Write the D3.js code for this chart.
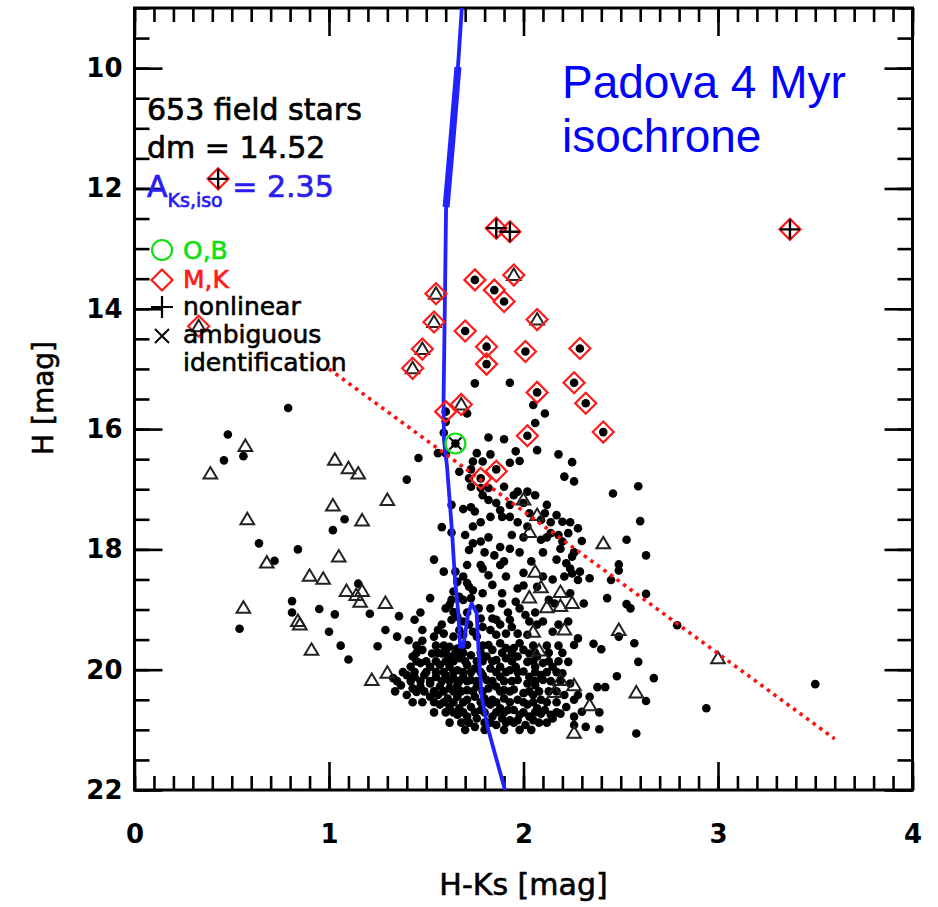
<!DOCTYPE html>
<html>
<head>
<meta charset="utf-8">
<script src="https://cdn.jsdelivr.net/npm/d3@7"></script>
<style>
  body { margin: 0; background: #fff; }
  svg { display: block; }
  text { font-family: "DejaVu Sans", sans-serif; }
</style>
</head>
<body>
<svg id="chart"></svg>
<script>
// -----------------------------
// DATA  (H-Ks, H)
// -----------------------------
const xTickLabels = [0, 1, 2, 3, 4];
const yTickLabels = [10, 12, 14, 16, 18, 20, 22];

// Padova 4 Myr isochrone
const isoX = [1.683, 1.663, 1.632, 1.602, 1.596, 1.589, 1.591, 1.607, 1.632, 1.648, 1.665, 1.674,
              1.690, 1.716, 1.734, 1.759, 1.768, 1.785, 1.819, 1.862, 1.905];
const isoH = [9.0, 9.98, 11.19, 12.31, 13.85, 15.52, 16.18, 16.63, 17.68, 18.51, 19.06, 19.62,
              19.62, 19.06, 18.90, 19.06, 19.62, 20.45, 21.00, 21.50, 22.0];

// reddening vector
const vecX = [1.0, 3.6];
const vecH = [15.0, 21.15];

// field stars (filled dots)
const fieldStars = [
  [0.79,15.65],[0.48,16.09],[0.46,16.52],[0.56,16.45],[0.64,17.90],[0.72,18.19],[0.84,18.00],[1.02,17.68],
  [1.08,17.50],[0.81,18.86],[0.81,19.05],[0.95,18.99],[1.03,19.08],[1.00,19.37],[1.06,19.60],[1.10,19.83],
  [1.15,18.57],[1.21,19.07],[1.29,19.34],[1.25,19.61],[0.54,19.32],[1.40,16.84],[1.46,16.48],[1.54,18.17],
  [1.58,17.63],[1.36,19.11],[1.44,19.17],[1.47,19.05],[1.52,18.81],[1.48,19.34],[1.35,19.45],
  [1.75,15.24],[1.93,15.23],[2.05,15.60],[2.11,15.74],[1.71,15.74],[2.06,15.90],[2.07,16.35],[1.82,16.14],
  [1.90,16.17],[1.96,16.37],[2.18,16.42],[2.25,16.55],[1.98,16.53],[2.21,16.79],[2.26,16.87],[2.46,17.07],
  [2.59,16.95],[2.60,17.53],[2.53,17.84],[2.63,18.10],[2.30,17.86],[2.49,18.25],[2.49,18.35],[2.45,18.51],
  [2.34,18.48],[2.43,18.81],[2.63,18.74],[2.53,18.91],[2.55,18.98],[2.57,19.56],[2.40,19.66],[2.36,19.57],
  [2.59,19.87],[2.48,20.11],[2.67,20.14],[2.79,19.26],[3.50,20.24],[2.94,20.64],[2.63,20.52],[2.58,21.06],
  [2.39,20.99],[2.39,20.71],[2.42,20.29],[2.38,20.29],[1.63,17.26],[1.63,17.72],[1.71,18.26],[1.88,18.26],
  [1.59,18.37],
  [1.60,15.88],[1.59,16.06],[1.65,16.24],[1.56,16.40],[1.60,16.40],[1.76,16.40],[1.83,16.42],[1.74,16.54],
  [1.79,16.54],[1.93,16.56],[1.73,16.67],[1.67,16.71],[1.78,16.82],[1.86,16.67],[1.72,16.82],[1.73,16.96],
  [1.82,16.98],[1.90,16.96],[1.78,16.98],[1.69,17.33],[1.73,17.30],[1.75,17.37],[1.82,17.18],[1.86,17.23],
  [1.93,17.26],[1.88,17.35],[1.97,17.04],[2.02,17.04],[2.00,17.23],[1.83,17.46],[1.89,17.46],[1.93,17.46],
  [2.03,17.40],[1.74,17.62],[2.02,17.62],
  [2.12,17.26],[2.17,17.43],[2.11,17.40],[2.09,17.51],[2.20,17.54],[2.28,17.65],
  [1.70,17.76],[1.74,17.90],[1.72,18.01],[1.78,17.87],[1.88,17.96],[1.93,17.99],[1.94,17.76],[1.65,18.37],
  [1.78,18.26],[1.79,18.32],[1.82,18.43],[1.85,18.10],[2.00,18.39],[1.66,18.54],[1.71,18.56],[1.72,18.62],
  [1.74,18.68],[1.79,18.73],[1.84,18.59],[1.89,18.73],[1.64,18.70],[1.63,18.84],[1.62,18.92],[1.67,18.79],
  [1.69,18.84],[1.73,18.81],[1.77,18.98],[1.83,18.98],[1.84,19.15],[1.97,18.65],[1.96,18.87],[1.98,18.98],
  [2.01,19.09],[1.60,18.98],[1.64,19.04],[1.66,19.12],[1.63,19.17],[1.69,19.20],[1.78,19.15],[1.79,19.29],
  [1.86,19.17],[1.93,19.17],[1.94,19.29],[1.56,19.34],[1.59,19.40],[1.54,19.45],[1.67,19.34],[1.69,19.42],
  [1.74,19.37],[1.76,19.45],[1.83,19.34],[1.86,19.42],[2.03,19.20],
  [2.09,17.84],[2.14,17.73],[2.18,17.76],[2.20,17.87],[2.23,17.73],[2.19,17.99],[2.25,18.12],[2.17,18.17],
  [2.22,18.23],[2.24,18.32],[2.25,18.40],[2.29,18.37],[2.28,18.51],[2.21,18.45],[2.15,18.50],[2.07,18.62],
  [2.13,18.84],[2.24,18.73],[2.10,19.20],[2.15,19.37],[2.23,19.20],[2.28,19.48],[2.49,19.45],
  [1.97,19.40],[2.02,19.42],[2.26,19.59],[1.98,19.56],[1.95,19.64],[2.00,19.67],[2.03,19.73],[1.97,19.78],
  [2.02,19.87],[2.07,19.78],[2.10,19.89],[2.06,19.95],[1.96,19.95],[2.00,20.03],[2.03,20.12],[2.09,20.09],
  [1.97,20.17],[2.02,20.23],[2.06,20.26],[2.10,20.17],[1.95,20.33],[2.00,20.39],[2.05,20.42],[2.09,20.50],
  [1.97,20.50],[2.02,20.58],[2.07,20.64],[1.95,20.67],[1.98,20.75],[2.03,20.78],[2.09,20.73],[2.14,20.75],
  [1.97,20.84],[2.01,20.92],[2.05,20.84],[2.15,19.95],[2.20,20.06],[2.23,19.87],[2.24,20.23],[2.28,20.42],
  [2.26,20.50],[2.21,20.42],[2.22,20.62],[2.19,20.73],[2.15,20.81],[2.11,20.67],[2.26,20.78],[2.30,20.70],
  [2.34,20.45],[2.26,20.92],[2.32,20.95],
  [1.64,19.45],[1.91,19.40],[1.41,19.51],[1.48,19.52],[1.59,19.60],[1.62,19.62],[1.66,19.65],[1.71,19.59],
  [1.82,19.59],[1.84,19.67],[1.88,19.56],[1.91,19.64],[1.48,19.67],[1.53,19.73],[1.58,19.73],[1.62,19.78],
  [1.67,19.81],[1.73,19.76],[1.81,19.78],[1.86,19.84],[1.91,19.81],[1.42,19.95],[1.47,19.89],[1.52,19.95],
  [1.57,19.92],[1.62,19.95],[1.66,20.01],[1.71,19.92],[1.75,19.98],[1.83,19.98],[1.88,19.95],[1.93,20.01],
  [1.40,20.09],[1.44,20.12],[1.49,20.09],[1.55,20.12],[1.60,20.09],[1.64,20.14],[1.69,20.12],[1.73,20.17],
  [1.79,20.09],[1.81,20.17],[1.88,20.12],[1.37,20.26],[1.43,20.31],[1.47,20.28],[1.52,20.23],[1.57,20.28],
  [1.62,20.31],[1.66,20.26],[1.71,20.34],[1.76,20.28],[1.82,20.31],[1.86,20.28],[1.90,20.34],[1.40,20.42],
  [1.45,20.37],[1.52,20.45],[1.56,20.42],[1.61,20.48],[1.66,20.45],[1.71,20.50],[1.75,20.45],[1.80,20.48],
  [1.84,20.50],[1.90,20.48],[1.57,20.58],[1.62,20.62],[1.67,20.64],[1.73,20.62],[1.78,20.67],[1.83,20.58],
  [1.88,20.64],[1.92,20.67],[1.66,20.75],[1.71,20.78],[1.76,20.81],[1.84,20.78],[1.89,20.81],[1.93,20.84],
  [1.75,20.95],[1.86,20.92],[1.43,19.78],[1.33,20.14],
  // dense core, second pass
  [1.45,19.60],[1.55,19.60],[1.69,19.60],[1.79,19.60],[2.05,19.60],[2.12,19.60],[2.18,19.60],
  [1.45,19.72],[1.56,19.72],[1.60,19.72],[1.65,19.72],[1.69,19.72],[1.78,19.72],[1.89,19.72],[1.94,19.72],
  [2.06,19.72],[2.13,19.72],[2.20,19.72],
  [1.45,19.86],[1.50,19.86],[1.55,19.86],[1.60,19.86],[1.64,19.86],[1.70,19.86],[1.76,19.86],[1.79,19.86],
  [1.84,19.86],[1.94,19.86],[2.05,19.86],[2.13,19.86],[2.18,19.86],
  [1.38,20.04],[1.44,20.04],[1.50,20.04],[1.55,20.04],[1.59,20.04],[1.64,20.04],[1.69,20.04],[1.73,20.04],
  [1.78,20.04],[1.86,20.04],[1.91,20.04],[1.97,20.04],[2.06,20.04],[2.12,20.04],[2.17,20.04],
  [1.35,20.19],[1.42,20.19],[1.47,20.19],[1.52,20.19],[1.58,20.19],[1.62,20.19],[1.67,20.19],[1.71,20.19],
  [1.76,20.19],[1.84,20.19],[1.90,20.19],[1.94,20.19],[2.06,20.19],[2.14,20.19],[2.19,20.19],
  [1.34,20.36],[1.49,20.36],[1.54,20.36],[1.59,20.36],[1.64,20.36],[1.68,20.36],[1.74,20.36],[1.79,20.36],
  [1.88,20.36],[1.93,20.36],[2.03,20.36],[2.08,20.36],[2.13,20.36],[2.17,20.36],
  [1.43,20.54],[1.48,20.54],[1.54,20.54],[1.59,20.54],[1.64,20.54],[1.69,20.54],[1.78,20.54],[1.81,20.54],
  [1.86,20.54],[1.93,20.54],[2.00,20.54],[2.05,20.54],[2.12,20.54],[2.17,20.54],
  [1.54,20.71],[1.60,20.71],[1.64,20.71],[1.69,20.71],[1.75,20.71],[1.80,20.71],[1.86,20.71],[1.90,20.71],
  [2.00,20.71],[2.06,20.71],[2.17,20.71],
  [1.62,20.88],[1.68,20.88],[1.72,20.88],[1.80,20.88],[1.83,20.88],[1.91,20.88],[1.95,20.88],[2.08,20.88],
  [2.12,20.88],[1.70,21.00],[1.80,21.00],[1.90,21.00],[1.98,21.00],[2.04,21.00],
  // middle of the cloud, second pass
  [1.79,17.10],[1.95,17.10],[2.06,17.10],[1.78,17.55],[1.97,17.55],[2.14,17.55],[2.24,17.55],
  [1.82,17.80],[2.00,17.80],[2.12,17.80],[1.80,18.05],[1.98,18.05],[2.10,18.05],[2.26,18.05],
  [1.90,18.20],[2.04,18.20],[1.69,18.45],[1.91,18.45],[2.10,18.45],[2.00,18.60],
  [1.89,18.90],[2.16,18.90],[2.31,18.90],[1.71,19.05],[1.92,19.05],[2.06,19.05],
  [1.58,19.25],[1.72,19.25],[1.88,19.25],[2.07,19.25],[2.18,19.25],
  // dots inside the M,K diamonds
  [1.75,13.52],[1.85,13.69],[1.90,13.88],[1.70,14.37],[1.81,14.63],[1.81,14.92],[2.01,14.71],[2.29,14.66],
  [2.26,15.23],[2.07,15.39],[2.32,15.57],[2.41,16.05],[2.02,16.11],[1.60,15.71]
];

// stars plotted as triangles
const triangleStars = [
  [0.39,16.74],[0.57,16.28],[0.58,17.50],[0.68,18.22],[0.56,18.97],[0.84,19.19],[0.85,19.25],[0.90,18.44],
  [0.97,18.49],[0.91,19.67],[1.03,16.51],[1.10,16.65],[1.15,16.74],[1.02,17.27],[1.17,17.52],[1.05,18.12],
  [1.09,18.69],[1.14,18.76],[1.17,18.69],[1.16,18.87],[1.30,17.18],[1.29,18.89],[1.22,20.17],[1.30,20.05],
  [1.55,13.75],[1.54,14.22],[1.48,14.67],[1.43,14.99],[0.33,14.29],[1.95,13.44],[2.07,14.18],[1.68,15.59],
  [2.00,17.17],[2.07,17.43],[2.03,17.71],[2.41,17.90],[2.06,18.37],[2.09,18.63],[2.03,18.80],[2.19,18.71],
  [2.12,18.96],[2.19,18.94],[2.25,18.89],[2.05,19.37],[2.21,19.33],[2.49,19.34],[2.08,19.68],[3.00,19.81],
  [2.19,20.17],[2.26,20.26],[2.16,20.37],[2.58,20.38],[2.34,20.59],[2.26,21.05]
];

// M,K spectral types (red diamonds)
const mkStars = [
  [0.43,11.84],[1.86,12.66],[1.93,12.72],[3.37,12.68],[1.75,13.52],[1.85,13.69],[1.90,13.88],[1.95,13.44],
  [1.55,13.75],[1.54,14.22],[1.48,14.67],[1.43,14.99],[0.33,14.29],[1.70,14.37],[1.81,14.63],[1.81,14.92],
  [2.01,14.71],[2.07,14.18],[2.29,14.66],[2.26,15.23],[2.07,15.39],[2.32,15.57],[2.41,16.05],[2.02,16.11],
  [1.60,15.71],[1.68,15.59],[1.78,16.82],[1.86,16.70]
];

// nonlinear photometry
const nonlinearStars = [[0.43,11.84],[1.86,12.66],[1.93,12.72],[3.37,12.68]];

// O,B spectral types (green circles)
const obStars = [[1.65,16.24]];

// ambiguous identification
const ambiguousStars = [[1.65,16.24]];

// -----------------------------
// SVG
// -----------------------------
const width = 938;
const height = 907;

const svg = d3.select("#chart")
  .attr("width", width)
  .attr("height", height);

svg.append("rect")
  .attr("width", width)
  .attr("height", height)
  .attr("fill", "#fff");

const x = d3.scaleLinear().domain([0, 4]).range([134.5, 912.5]);
const y = d3.scaleLinear().domain([9, 22]).range([8, 790]);

const xMinor = d3.range(0, 40.5, 1).map(d => d / 10);
const yMinor = d3.range(18, 44.5, 1).map(d => d / 2);

// -----------------------------
// AXES
// -----------------------------
function styleAxis(g) {
  g.select(".domain").remove();
  g.selectAll("line").attr("stroke", "#000").attr("stroke-width", 2.6);
  g.selectAll("text")
    .attr("fill", "#000")
    .style("font-family", "'DejaVu Sans', sans-serif")
    .style("font-weight", "bold")
    .style("font-size", "26px");
}

svg.append("g").attr("transform", "translate(0,790)")
  .call(d3.axisBottom(x).tickValues(xMinor).tickSize(-14).tickFormat(""))
  .call(styleAxis);
svg.append("g").attr("transform", "translate(0,790)")
  .call(d3.axisBottom(x).tickValues(xTickLabels).tickSize(-28).tickPadding(35).tickFormat(d3.format("d")))
  .call(styleAxis);

svg.append("g").attr("transform", "translate(0,8)")
  .call(d3.axisTop(x).tickValues(xMinor).tickSize(-14).tickFormat(""))
  .call(styleAxis);
svg.append("g").attr("transform", "translate(0,8)")
  .call(d3.axisTop(x).tickValues(xTickLabels).tickSize(-28).tickFormat(""))
  .call(styleAxis);

svg.append("g").attr("transform", "translate(134.5,0)")
  .call(d3.axisLeft(y).tickValues(yMinor).tickSize(-15).tickFormat(""))
  .call(styleAxis);
svg.append("g").attr("transform", "translate(134.5,0)")
  .call(d3.axisLeft(y).tickValues(yTickLabels).tickSize(-28).tickPadding(12).tickFormat(d3.format("d")))
  .call(styleAxis);

svg.append("g").attr("transform", "translate(912.5,0)")
  .call(d3.axisRight(y).tickValues(yMinor).tickSize(-15).tickFormat(""))
  .call(styleAxis);
svg.append("g").attr("transform", "translate(912.5,0)")
  .call(d3.axisRight(y).tickValues(yTickLabels).tickSize(-28).tickFormat(""))
  .call(styleAxis);

// frame
svg.append("rect")
  .attr("x", x(0)).attr("y", y(9))
  .attr("width", x(4) - x(0)).attr("height", y(22) - y(9))
  .attr("fill", "none").attr("stroke", "#000").attr("stroke-width", 3);

// axis titles
svg.append("text")
  .attr("x", (x(0) + x(4)) / 2).attr("y", 895)
  .attr("text-anchor", "middle")
  .attr("stroke", "#000").attr("stroke-width", 0.6)
  .style("font-size", "30px")
  .text("H-Ks [mag]");

svg.append("text")
  .attr("transform", "translate(53,398) rotate(-90)")
  .attr("text-anchor", "middle")
  .attr("stroke", "#000").attr("stroke-width", 0.6)
  .style("font-size", "28px")
  .text("H [mag]");

// -----------------------------
// MARKS
// -----------------------------
const plot = svg.append("g");

plot.append("g")
  .selectAll("circle")
  .data(fieldStars)
  .join("circle")
  .attr("cx", d => x(d[0]))
  .attr("cy", d => y(d[1]))
  .attr("r", 4.3)
  .attr("fill", "#000");

plot.append("g")
  .selectAll("path")
  .data(triangleStars)
  .join("path")
  .attr("transform", d => `translate(${x(d[0])},${y(d[1])})`)
  .attr("d", "M0,-6.5L6.8,5L-6.8,5Z")
  .attr("fill", "none")
  .attr("stroke", "#222")
  .attr("stroke-width", 2);

// isochrone
const isoLine = d3.line().x(d => x(d[0])).y(d => y(d[1]));
const iso = isoX.map((v, i) => [v, isoH[i]]);

plot.append("path")
  .attr("d", isoLine(iso))
  .attr("fill", "none")
  .attr("stroke", "#2222ff")
  .attr("stroke-width", 3.8)
  .attr("stroke-linejoin", "round");

plot.append("path")
  .attr("d", isoLine(iso.slice(1, 4)))
  .attr("fill", "none")
  .attr("stroke", "#2222ff")
  .attr("stroke-width", 7)
  .attr("stroke-linejoin", "round");

// reddening vector
plot.append("path")
  .attr("d", isoLine(vecX.map((v, i) => [v, vecH[i]])))
  .attr("fill", "none")
  .attr("stroke", "#ff1010")
  .attr("stroke-width", 3.6)
  .attr("stroke-dasharray", "3.5,4.6");

plot.append("g")
  .selectAll("path")
  .data(mkStars)
  .join("path")
  .attr("transform", d => `translate(${x(d[0])},${y(d[1])})`)
  .attr("d", "M0,-10.5L10.5,0L0,10.5L-10.5,0Z")
  .attr("fill", "none")
  .attr("stroke", "#ff1a1a")
  .attr("stroke-width", 2.2);

plot.append("g")
  .selectAll("path")
  .data(nonlinearStars)
  .join("path")
  .attr("transform", d => `translate(${x(d[0])},${y(d[1])})`)
  .attr("d", "M-10,0H10M0,-10V10")
  .attr("stroke", "#000")
  .attr("stroke-width", 2.4);

plot.append("g")
  .selectAll("circle")
  .data(obStars)
  .join("circle")
  .attr("cx", d => x(d[0]))
  .attr("cy", d => y(d[1]))
  .attr("r", 10)
  .attr("fill", "none")
  .attr("stroke", "#10e010")
  .attr("stroke-width", 2.2);

plot.append("g")
  .selectAll("path")
  .data(ambiguousStars)
  .join("path")
  .attr("transform", d => `translate(${x(d[0])},${y(d[1])})`)
  .attr("d", "M-6,-6L6,6M-6,6L6,-6")
  .attr("stroke", "#000")
  .attr("stroke-width", 2);

// -----------------------------
// ANNOTATIONS
// -----------------------------
svg.append("text").attr("x", 147).attr("y", 120)
  .attr("stroke", "#000").attr("stroke-width", 0.7)
  .style("font-size", "30px").text("653 field stars");
svg.append("text").attr("x", 147).attr("y", 158)
  .attr("stroke", "#000").attr("stroke-width", 0.7)
  .style("font-size", "30px").text("dm = 14.52");

const aks = svg.append("text").attr("x", 147).attr("y", 197)
  .attr("fill", "#2a1cf0").attr("stroke", "#2a1cf0").attr("stroke-width", 0.7)
  .style("font-size", "30px");
aks.append("tspan").text("A");
aks.append("tspan").attr("dy", 10).style("font-size", "19px").text("Ks,iso");
aks.append("tspan").attr("dy", -10).text(" = 2.35");

svg.append("text").attr("x", 562).attr("y", 98)
  .attr("fill", "#0000ff")
  .style("font-family", "'Liberation Sans', Arial, sans-serif")
  .style("font-size", "46px").text("Padova 4 Myr");
svg.append("text").attr("x", 562).attr("y", 152)
  .attr("fill", "#0000ff")
  .style("font-family", "'Liberation Sans', Arial, sans-serif")
  .style("font-size", "46px").text("isochrone");

// legend
const legend = svg.append("g");
legend.append("circle").attr("cx", 162).attr("cy", 250).attr("r", 10)
  .attr("fill", "none").attr("stroke", "#10e010").attr("stroke-width", 2.2);
legend.append("text").attr("x", 183).attr("y", 259)
  .attr("fill", "#10e010").attr("stroke", "#10e010").attr("stroke-width", 0.7)
  .style("font-size", "25px").text("O,B");

legend.append("path").attr("transform", "translate(162,280)")
  .attr("d", "M0,-10.5L10.5,0L0,10.5L-10.5,0Z")
  .attr("fill", "none").attr("stroke", "#ff1a1a").attr("stroke-width", 2.2);
legend.append("text").attr("x", 183).attr("y", 288)
  .attr("fill", "#ff1a1a").attr("stroke", "#ff1a1a").attr("stroke-width", 0.7)
  .style("font-size", "25px").text("M,K");

legend.append("path").attr("transform", "translate(162,307)")
  .attr("d", "M-11,0H11M0,-11V11")
  .attr("stroke", "#000").attr("stroke-width", 2.2);
legend.append("text").attr("x", 183).attr("y", 315)
  .attr("stroke", "#000").attr("stroke-width", 0.6)
  .style("font-size", "25px").text("nonlinear");

legend.append("path").attr("transform", "translate(162,336)")
  .attr("d", "M-7,-7L7,7M-7,7L7,-7")
  .attr("stroke", "#000").attr("stroke-width", 2);
legend.append("text").attr("x", 183).attr("y", 343)
  .attr("stroke", "#000").attr("stroke-width", 0.6)
  .style("font-size", "25px").text("ambiguous");
legend.append("text").attr("x", 183).attr("y", 371)
  .attr("stroke", "#000").attr("stroke-width", 0.6)
  .style("font-size", "25px").text("identification");
</script>
</body>
</html>
